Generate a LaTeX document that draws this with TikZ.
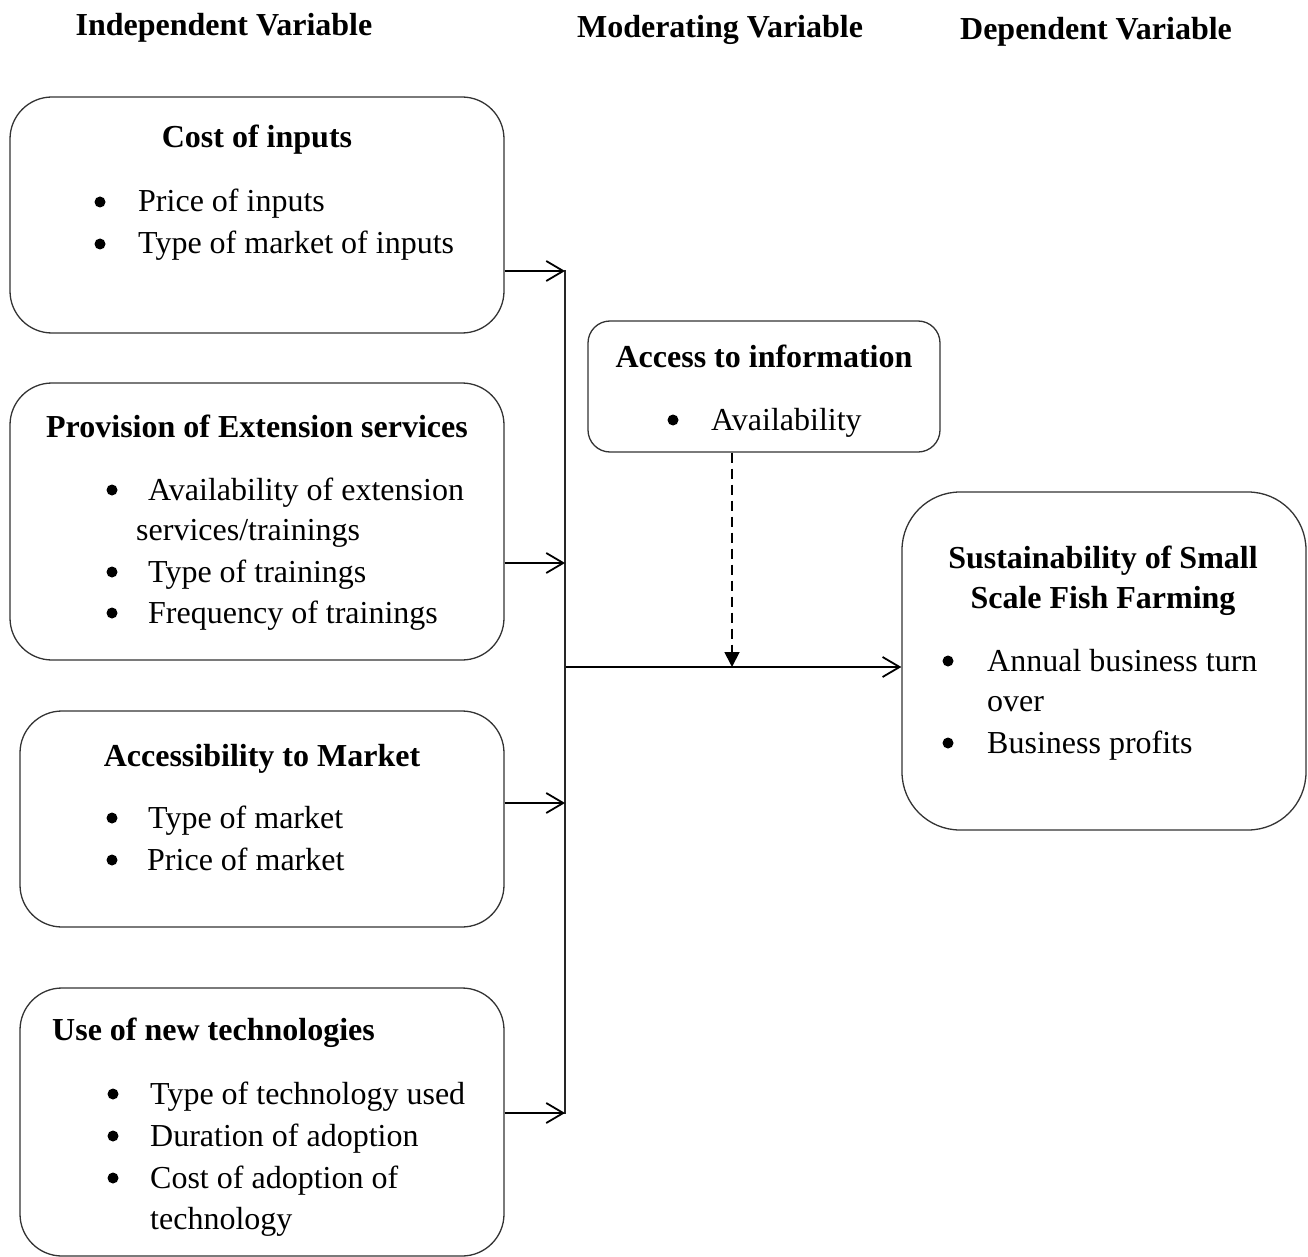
\documentclass[tikz,border=0pt]{standalone}
\usepackage{fontspec}
\setmainfont{Liberation Serif}
\usetikzlibrary{arrows.meta}
\begin{document}
\begin{tikzpicture}[x=1pt,y=-1pt,
  box/.style={draw=black!80, line width=1.3pt, inner sep=0pt},
  txt/.style={anchor=base west, inner sep=0pt, font=\fontsize{32}{42}\selectfont},
  ttl/.style={anchor=base, inner sep=0pt, font=\fontsize{32}{42}\selectfont\bfseries},
  bul/.style={circle, fill=black, inner sep=0pt, minimum size=11pt, yshift=10pt},
  arr/.style={line width=1.8pt, -{Straight Barb[length=17pt,width=20pt,line width=1.8pt]}},
  dasharr/.style={line width=1.8pt, dash pattern=on 10pt off 6pt, -{Triangle[length=15pt,width=15pt]}}]
\useasboundingbox (0,0) rectangle (1308,1257);

% headers
\node[ttl] (h1) at (224,36) {Independent Variable};
\node[ttl] (h2) at (720,38) {Moderating Variable};
\node[ttl] (h3) at (1096,40) {Dependent Variable};

% boxes
\node[box, rounded corners=42pt, minimum width=494pt, minimum height=236pt] (b1) at (257,215) {};
\node[box, rounded corners=42pt, minimum width=494pt, minimum height=277pt] (b2) at (257,521.5) {};
\node[box, rounded corners=42pt, minimum width=484pt, minimum height=216pt] (b3) at (262,819) {};
\node[box, rounded corners=42pt, minimum width=484pt, minimum height=268pt] (b4) at (262,1122) {};
\node[box, rounded corners=22pt, minimum width=352pt, minimum height=131pt] (acc) at (764,386.5) {};
\node[box, rounded corners=58pt, minimum width=404pt, minimum height=338pt] (sus) at (1104,661) {};

% box 1
\node[ttl] (t1) at (257,148) {Cost of inputs};
\node[bul] (p11) at (100,212) {};
\node[txt] (i11) at (138,212) {Price of inputs};
\node[bul] (p12) at (100,254) {};
\node[txt] (i12) at (138,254) {Type of market of inputs};

% box 2
\node[ttl] (t2) at (257,437) {Provision of Extension services};
\node[bul] (p21) at (112,500) {};
\node[txt] (i21) at (148,500) {Availability of extension};
\node[txt] (i21b) at (136,540) {services/trainings};
\node[bul] (p22) at (112,582) {};
\node[txt] (i22) at (148,582) {Type of trainings};
\node[bul] (p23) at (112,623) {};
\node[txt] (i23) at (148,623) {Frequency of trainings};

% box 3
\node[ttl] (t3) at (262,766) {Accessibility to Market};
\node[bul] (p31) at (112,828) {};
\node[txt] (i31) at (148,828) {Type of market};
\node[bul] (p32) at (112,870) {};
\node[txt] (i32) at (147,870) {Price of market};

% box 4
\node[ttl, anchor=base west] (t4) at (52,1040) {Use of new technologies};
\node[bul] (p41) at (113,1104) {};
\node[txt] (i41) at (150,1104) {Type of technology used};
\node[bul] (p42) at (113,1146) {};
\node[txt] (i42) at (150,1146) {Duration of adoption};
\node[bul] (p43) at (113,1188) {};
\node[txt] (i43) at (150,1188) {Cost of adoption of};
\node[txt] (i43b) at (150,1229) {technology};

% access box
\node[ttl] (ta) at (764,367) {Access to information};
\node[bul] (pa1) at (673,430) {};
\node[txt] (ia1) at (711,430) {Availability};

% sustainability box
\node[ttl] (ts1) at (1103,568) {Sustainability of Small};
\node[ttl] (ts2) at (1103,608) {Scale Fish Farming};
\node[bul] (ps1) at (948,671) {};
\node[txt] (is1) at (987,671) {Annual business turn};
\node[txt] (is1b) at (987,711) {over};
\node[bul] (ps2) at (948,753) {};
\node[txt] (is2) at (987,753) {Business profits};

% connector spine
\coordinate (vtop) at (565,270);
\coordinate (vbot) at (565,1114);
\coordinate (v1) at (565,271);
\coordinate (v2) at (565,563);
\coordinate (v3) at (565,803);
\coordinate (v4) at (565,1113);
\coordinate (vm) at (566,667);
\coordinate (dj) at (732,667);
\draw[black!85, line width=1.5pt] (vtop) -- (vbot);

\draw[arr] (b1.east |- v1) -- (v1);
\draw[arr] (b2.east |- v2) -- (v2);
\draw[arr] (b3.east |- v3) -- (v3);
\draw[arr] (b4.east |- v4) -- (v4);

\draw[arr] (vm) -- (sus.west |- vm);
\draw[dasharr] (acc.south -| dj) -- (dj);
\end{tikzpicture}
\end{document}
